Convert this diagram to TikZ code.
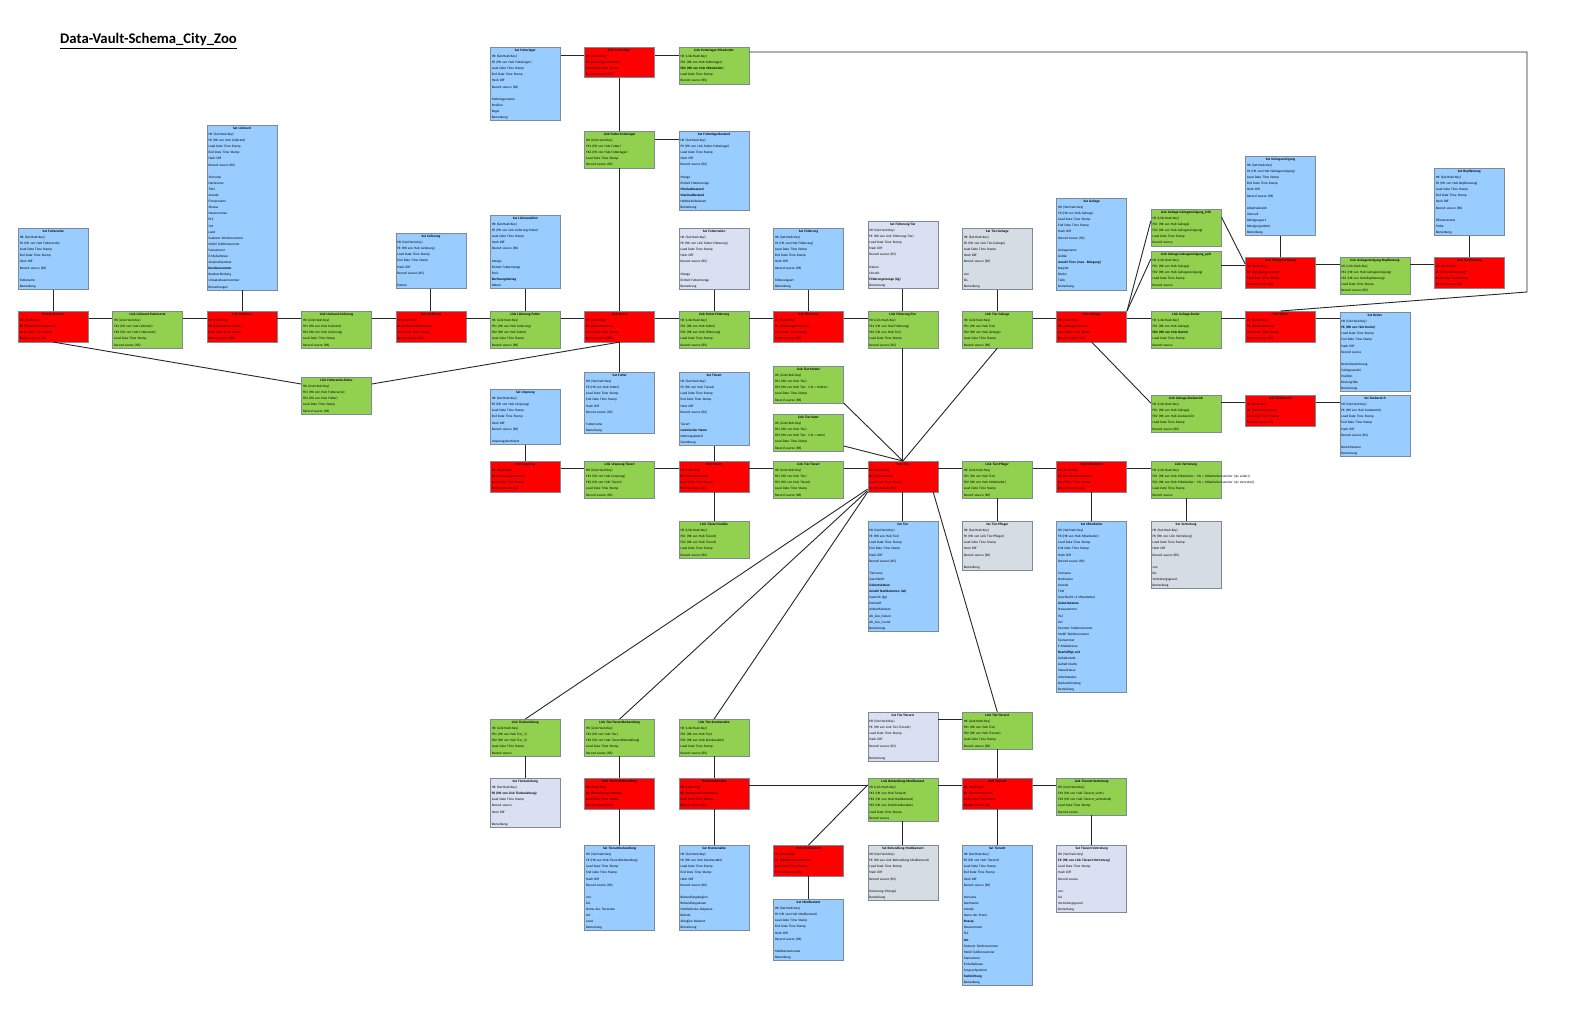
\documentclass[tikz,border=0pt]{standalone}
\usepackage{fontspec}
\setmainfont{Carlito}
\usetikzlibrary{calc}
\definecolor{hubred}{HTML}{FF0000}
\definecolor{lnkgreen}{HTML}{92D050}
\definecolor{satblue}{HTML}{99CCFF}
\definecolor{satlav}{HTML}{DAE0F2}
\definecolor{satgray}{HTML}{D6DCE4}
\definecolor{boxline}{HTML}{7F8A99}
\newcommand\efont{\fontsize{3.4}{6.1}\selectfont}
\newcommand\estrut{\rule[-1.9pt]{0pt}{6.1pt}}
\newcommand\erow[1]{\\\estrut\mbox{#1}}
\newcommand\ent[6]{\node[#2] (#1) at (#3,#4) {\estrut\makebox[67pt][c]{\bfseries #5}#6};}
\newcommand\hubrows[1]{\erow{HK (Hash-Key)}\erow{BK (#1)}\erow{Load Date Time Stamp}\erow{Record source (RS)}}
\newcommand\lnkrows[2]{\erow{HK (Link-Hash-Key)}\erow{FK1 (HK von Hub #1)}\erow{FK2 (HK von Hub #2)}\erow{Load Date Time Stamp}\erow{Record source (RS)}}
\newcommand\satrows[1]{\erow{HK (Sat-Hash-Key)}\erow{FK (HK von Hub #1)}\erow{Load Date Time Stamp}\erow{End Date Time Stamp}\erow{Hash Diff}\erow{Record source (RS)}\erow{}}
\newcommand\lsatrows[1]{\erow{HK (Sat-Hash-Key)}\erow{FK (HK von Link #1)}\erow{Load Date Time Stamp}\erow{Hash Diff}\erow{Record source (RS)}\erow{}}
\newcommand\hcon[3]{\draw[conn] (#1.east |- 0,#3) -- (#2.west |- 0,#3);}
\newcommand\vcon[2]{\draw[conn] (#1.south) -- (#2.north);}
\tikzset{
  ent/.style={draw=boxline, line width=0.6pt, anchor=north west, text width=67pt,
    inner xsep=1.5pt, inner ysep=0pt, align=left, font=\efont},
  hub/.style={ent, fill=hubred},
  lnk/.style={ent, fill=lnkgreen},
  sat/.style={ent, fill=satblue},
  satl/.style={ent, fill=satlav},
  satg/.style={ent, fill=satgray},
  conn/.style={draw=black!85, line width=0.9pt}
}
\begin{document}
\begin{tikzpicture}[x=1pt,y=-1pt]
\useasboundingbox[fill=white] (0,0) rectangle (1582,1011);
\node[anchor=base west, inner sep=0pt, font=\fontsize{14.7}{16}\selectfont\bfseries] (title) at (60,44) {\underline{Data-Vault-Schema\_City\_Zoo}};

% ---------- upper / main row ----------
\ent{sfs}{sat}{18}{228}{Sat Futtersorte}{\satrows{Futtersorte}\erow{Futtersorte}\erow{Bemerkung}}
\ent{hfs}{hub}{18}{311}{Hub Futtersorte}{\hubrows{Futtersortennummer}}
\ent{lfl}{lnk}{112.4}{311}{Link Lieferant-Futtersorte}{\lnkrows{Lieferant}{Futtersorte}}
\ent{sli}{sat}{206.8}{125}{Sat Lieferant}{\satrows{Lieferant}\erow{Vorname}\erow{Nachname}\erow{Titel}\erow{Anrede}\erow{Firmenname}\erow{Strasse}\erow{Hausnummer}\erow{PLZ}\erow{Ort}\erow{Land}\erow{Festnetz Telefonnummer}\erow{Mobil Telefonnummer}\erow{Faxnummer}\erow{E-Mailadresse}\erow{Ansprechpartner}\erow{\bfseries Kundennummer}\erow{Bankverbindung}\erow{Umsatzsteuernummer}\erow{Bemerkungen}}
\ent{hli}{hub}{206.8}{311}{Hub Lieferant}{\hubrows{Lieferantennummer}}
\ent{lll}{lnk}{301.2}{311}{Link Lieferant-Lieferung}{\lnkrows{Lieferant}{Lieferung}}
\ent{slf}{sat}{395.6}{233}{Sat Lieferung}{\satrows{Lieferung}\erow{Datum}}
\ent{hlf}{hub}{395.6}{311}{Hub Lieferung}{\hubrows{Lieferscheinnummer}}
\ent{llp}{lnk}{490}{311}{Link Lieferung-Futter}{\lnkrows{Lieferung}{Futter}}
\ent{slp}{sat}{490}{215}{Sat Lieferposition}{\lsatrows{Lieferung-Futter}\erow{Menge}\erow{Einheit Futtermenge}\erow{Preis}\erow{\bfseries Rechnungsbetrag}\erow{Datum}}
\ent{hfu}{hub}{584.4}{311}{Hub Futter}{\hubrows{Futternummer}}
\ent{lfsf}{lnk}{301.2}{377}{Link Futtersorte-Futter}{\lnkrows{Futtersorte}{Futter}}
\ent{sfl}{sat}{490}{47}{Sat Futterlager}{\satrows{Futterlager}\erow{Futterlagername}\erow{Position}\erow{Regal}\erow{Bemerkung}}
\ent{hfl}{hub}{584.4}{47}{Hub Futterlager}{\hubrows{Futterlagernummer}}
\ent{lflm}{lnk}{678.8}{47}{Link Futterlager-Mitarbeiter}{\erow{HK (Link-Hash-Key)}\erow{FK1 (HK von Hub Futterlager)}\erow{\bfseries FK2 (HK von Hub Mitarbeiter)}\erow{Load Date Time Stamp}\erow{Record source (RS)}}
\ent{lffl}{lnk}{584.4}{131}{Link Futter-Futterlager}{\lnkrows{Futter}{Futterlager}}
\ent{sflb}{sat}{678.8}{131}{Sat Futterlagerbestand}{\lsatrows{Futter-Futterlager}\erow{Menge}\erow{Einheit Futtermenge}\erow{\bfseries Mindestbestand}\erow{\bfseries Maximalbestand}\erow{Haltbarkeitsdatum}\erow{Bemerkung}}
\ent{sfu}{sat}{584.4}{372}{Sat Futter}{\satrows{Futter}\erow{Futtername}\erow{Bemerkung}}
\ent{lfr}{lnk}{678.8}{311}{Link Futter-Fütterung}{\lnkrows{Futter}{Fütterung}}
\ent{sfr}{satl}{678.8}{228}{Sat Futterration}{\lsatrows{Futter-Fütterung}\erow{Menge}\erow{Einheit Futtermenge}\erow{Bemerkung}}
\ent{hfg}{hub}{773.2}{311}{Hub Fütterung}{\hubrows{Fütterungsnummer}}
\ent{sfg}{sat}{773.2}{228}{Sat Fütterung}{\satrows{Fütterung}\erow{Fütterungsart}\erow{Bemerkung}}
\ent{lft}{lnk}{867.6}{311}{Link Fütterung-Tier}{\lnkrows{Fütterung}{Tier}}
\ent{sft}{satl}{867.6}{221}{Sat Fütterung-Tier}{\lsatrows{Fütterung-Tier}\erow{Datum}\erow{Uhrzeit}\erow{\bfseries Fütterungsmenge (kg)}\erow{Bemerkung}}
\ent{ltg}{lnk}{962}{311}{Link Tier-Gehege}{\lnkrows{Tier}{Gehege}}
\ent{stg}{satg}{962}{228}{Sat Tier-Gehege}{\lsatrows{Tier-Gehege}\erow{von}\erow{bis}\erow{Bemerkung}}
\ent{hge}{hub}{1056.4}{311}{Hub Gehege}{\hubrows{Gehegenummer}}
\ent{sge}{sat}{1056.4}{198}{Sat Gehege}{\satrows{Gehege}\erow{Gehegename}\erow{Größe}\erow{\bfseries Anzahl Tiere (max. Belegung)}\erow{Baujahr}\erow{Breite}\erow{Tiefe}\erow{Bemerkung}}
\ent{lgr1}{lnk}{1150.8}{209}{Link Gehege-Gehegereinigung\_früh}{\erow{HK (Link-Hash-Key)}\erow{FK1 (HK von Hub Gehege)}\erow{FK2 (HK von Hub Gehegereinigung)}\erow{Load Date Time Stamp}\erow{Record source}}
\ent{lgr2}{lnk}{1150.8}{251}{Link Gehege-Gehegereinigung\_spät}{\erow{HK (Link-Hash-Key)}\erow{FK1 (HK von Hub Gehege)}\erow{FK2 (HK von Hub Gehegereinigung)}\erow{Load Date Time Stamp}\erow{Record source}}
\ent{hgr}{hub}{1245.2}{257}{Hub Gehegereinigung}{\hubrows{Reinigungsnummer}}
\ent{sgr}{sat}{1245.2}{156}{Sat Gehegereinigung}{\satrows{Gehegereinigung}\erow{Arbeitsbereich}\erow{Intervall}\erow{Reinigungsart}\erow{Reinigungsmittel}\erow{Bemerkung}}
\ent{lgb}{lnk}{1339.6}{257}{Link Gehegereinigung-Bepflanzung}{\lnkrows{Gehegereinigung}{Bepflanzung}}
\ent{hbp}{hub}{1434}{257}{Hub Bepflanzung}{\hubrows{Pflanzennummer}}
\ent{sbp}{sat}{1434}{168}{Sat Bepflanzung}{\satrows{Bepflanzung}\erow{Pflanzenname}\erow{Farbe}\erow{Bemerkung}}
\ent{lgrv}{lnk}{1150.8}{311}{Link Gehege-Revier}{\erow{HK (Link-Hash-Key)}\erow{FK1 (HK von Hub Gehege)}\erow{\bfseries FK2 (HK von Hub Revier)}\erow{Load Date Time Stamp}\erow{Record source}}
\ent{hrv}{hub}{1245.2}{311}{Hub Revier}{\hubrows{Reviernummer}}
\ent{srv}{sat}{1339.6}{312}{Sat Revier}{\erow{HK (Sat-Hash-Key)}\erow{\bfseries FK (HK von Hub Revier)}\erow{Load Date Time Stamp}\erow{End Date Time Stamp}\erow{Hash Diff}\erow{Record source}\erow{}\erow{Revierbezeichnung}\erow{Gehegeanzahl}\erow{Position}\erow{Reviergröße}\erow{Bemerkung}}
\ent{lgz}{lnk}{1150.8}{395}{Link Gehege-Zoobereich}{\lnkrows{Gehege}{Zoobereich}}
\ent{hzb}{hub}{1245.2}{395}{Hub Zoobereich}{\hubrows{Bereichsnummer}}
\ent{szb}{sat}{1339.6}{395}{Sat Zoobereich}{\satrows{Zoobereich}\erow{Bereichsname}\erow{Bemerkung}}

% ---------- middle row ----------
\ent{sur}{sat}{490}{389}{Sat Ursprung}{\satrows{Ursprung}\erow{Ursprungskontinent}}
\ent{hur}{hub}{490}{461}{Hub Ursprung}{\hubrows{Ursprungsnummer}}
\ent{lut}{lnk}{584.4}{461}{Link Ursprung-Tierart}{\lnkrows{Ursprung}{Tierart}}
\ent{sta}{sat}{678.8}{372}{Sat Tierart}{\satrows{Tierart}\erow{Tierart}\erow{\bfseries Lateinischer Name}\erow{Nahrungsbedarf}\erow{Zuordnung}}
\ent{hta}{hub}{678.8}{461}{Hub Tierart}{\hubrows{Tierartnummer}}
\ent{ltaf}{lnk}{678.8}{521}{Link Tierart-Familie}{\lnkrows{Tierart}{Tierart}}
\ent{ltt1}{lnk}{773.2}{366}{Link Tier-Mutter}{\erow{HK (Link-Hash-Key)}\erow{FK1 (HK von Hub Tier)}\erow{FK2 (HK von Hub Tier: 1:N = Mutter)}\erow{Load Date Time Stamp}\erow{Record source (RS)}}
\ent{ltt2}{lnk}{773.2}{414}{Link Tier-Vater}{\erow{HK (Link-Hash-Key)}\erow{FK1 (HK von Hub Tier)}\erow{FK2 (HK von Hub Tier: 1:N = Vater)}\erow{Load Date Time Stamp}\erow{Record source (RS)}}
\ent{ltta}{lnk}{773.2}{461}{Link Tier-Tierart}{\lnkrows{Tier}{Tierart}}
\ent{ht}{hub}{867.6}{461}{Hub Tier}{\hubrows{Tiernummer}}
\ent{st}{sat}{867.6}{521}{Sat Tier}{\satrows{Tier}\erow{Tiername}\erow{Geschlecht}\erow{\bfseries Geburtsdatum}\erow{\bfseries Anzahl Nachkommen (Ist)}\erow{Gewicht (kg)}\erow{Herkunft}\erow{Ankunftsdatum}\erow{Ab\_Zoo\_Datum}\erow{Ab\_Zoo\_Grund}\erow{Bemerkung}}
\ent{ltp}{lnk}{962}{461}{Link Tier-Pfleger}{\lnkrows{Tier}{Mitarbeiter}}
\ent{stp}{satg}{962}{521}{Sat Tier-Pfleger}{\lsatrows{Tier-Pfleger}\erow{Bemerkung}}
\ent{hma}{hub}{1056.4}{461}{Hub Mitarbeiter}{\hubrows{Mitarbeiternummer}}
\ent{sma}{sat}{1056.4}{521}{Sat Mitarbeiter}{\satrows{Mitarbeiter}\erow{Vorname}\erow{Nachname}\erow{Anrede}\erow{Titel}\erow{Geschlecht (1 Mitarbeiter)}\erow{\bfseries Geburtsdatum}\erow{Hausnummer}\erow{PLZ}\erow{Ort}\erow{Festnetz Telefonnummer}\erow{Mobil Telefonnummer}\erow{Faxnummer}\erow{E-Mailadresse}\erow{\bfseries Beschäftigt seit}\erow{Gehaltsstufe}\erow{Gehalt brutto}\erow{Steuerklasse}\erow{Arbeitsstatus}\erow{Bankverbindung}\erow{Bemerkung}}
\ent{lvt}{lnk}{1150.8}{461}{Link Vertretung}{\erow{HK (Link-Hash-Key)}\erow{\rlap{FK1 (HK von Hub Mitarbeiter: 1:N = Mitarbeiternummer (als Leiter))}}\erow{\rlap{FK2 (HK von Hub Mitarbeiter: 1:N = Mitarbeiternummer (als Vertreter))}}\erow{Load Date Time Stamp}\erow{Record source}}
\ent{svt}{satg}{1150.8}{521}{Sat Vertretung}{\lsatrows{Vertretung}\erow{von}\erow{bis}\erow{Vertretungsgrund}\erow{Bemerkung}}

% ---------- bottom ----------
\ent{ltb}{lnk}{490}{719}{Link Tierbeziehung}{\erow{HK (Link-Hash-Key)}\erow{FK1 (HK von Hub Tier\_1)}\erow{FK2 (HK von Hub Tier\_2)}\erow{Load Date Time Stamp}\erow{Record source}}
\ent{stb}{satl}{490}{778}{Sat Tierbeziehung}{\erow{HK (Sat-Hash-Key)}\erow{\bfseries FK (HK von Link Tierbeziehung)}\erow{Load Date Time Stamp}\erow{Record source}\erow{Hash Diff}\erow{}\erow{Bemerkung}}
\ent{ltab}{lnk}{584.4}{719}{Link Tier-Tierarztbehandlung}{\lnkrows{Tier}{Tierarztbehandlung}}
\ent{htab}{hub}{584.4}{778}{Hub Tierarztbehandlung}{\hubrows{Behandlungsnummer}}
\ent{stab}{sat}{584.4}{845}{Sat Tierarztbehandlung}{\satrows{Tierarztbehandlung}\erow{von}\erow{bis}\erow{Name des Tierarztes}\erow{Art}\erow{Land}\erow{Bemerkung}}
\ent{ltka}{lnk}{678.8}{719}{Link Tier-Krankenakte}{\lnkrows{Tier}{Krankenakte}}
\ent{hka}{hub}{678.8}{778}{Hub Krankenakte}{\hubrows{Krankenaktennummer}}
\ent{ska}{sat}{678.8}{845}{Sat Krankenakte}{\satrows{Krankenakte}\erow{Behandlungsbeginn}\erow{Behandlungsdauer}\erow{Medizinische Diagnose}\erow{Befund}\erow{Allergien bekannt}\erow{Bemerkung}}
\ent{hme}{hub}{773.2}{845}{Hub Medikament}{\hubrows{Medikamentnummer}}
\ent{sme}{sat}{773.2}{899}{Sat Medikament}{\satrows{Medikament}\erow{Medikamentname}\erow{Bemerkung}}
\ent{stta}{satl}{867.6}{712}{Sat Tier-Tierarzt}{\lsatrows{Tier-Tierarzt}\erow{Bemerkung}}
\ent{lbm}{lnk}{867.6}{778}{Link Behandlung-Medikament}{\erow{HK (Link-Hash-Key)}\erow{FK1 (HK von Hub Tierarzt)}\erow{FK2 (HK von Hub Medikament)}\erow{FK3 (HK von Hub Krankenakte)}\erow{Load Date Time Stamp}\erow{Record source}}
\ent{sbm}{satg}{867.6}{845}{Sat Behandlung-Medikament}{\lsatrows{Behandlung-Medikament}\erow{Dosierung (Menge)}\erow{Bemerkung}}
\ent{lttz}{lnk}{962}{712}{Link Tier-Tierarzt}{\lnkrows{Tier}{Tierarzt}}
\ent{htz}{hub}{962}{778}{Hub Tierarzt}{\hubrows{Tierarztnummer}}
\ent{stz}{sat}{962}{845}{Sat Tierarzt}{\satrows{Tierarzt}\erow{Vorname}\erow{Nachname}\erow{Anrede}\erow{Name der Praxis}\erow{\bfseries Strasse}\erow{Hausnummer}\erow{PLZ}\erow{\bfseries Ort}\erow{Festnetz Telefonnummer}\erow{Mobil Telefonnummer}\erow{Faxnummer}\erow{E-Mailadresse}\erow{Ansprechpartner}\erow{\bfseries Fachrichtung}\erow{Bemerkung}}
\ent{ltzv}{lnk}{1056.4}{778}{Link Tierarzt-Vertretung}{\erow{HK (Link-Hash-Key)}\erow{FK1 (HK von Hub Tierarzt\_vertr.)}\erow{FK2 (HK von Hub Tierarzt\_vertretend)}\erow{Load Date Time Stamp}\erow{Record source}}
\ent{stzv}{satl}{1056.4}{845}{Sat Tierarzt-Vertretung}{\erow{HK (Sat-Hash-Key)}\erow{\bfseries FK (HK von Link Tierarzt-Vertretung)}\erow{Load Date Time Stamp}\erow{Hash Diff}\erow{Record source}\erow{}\erow{von}\erow{bis}\erow{Vertretungsgrund}\erow{Bemerkung}}

% ---------- connectors ----------
\hcon{hfs}{lfl}{318}
\hcon{lfl}{hli}{318}
\hcon{hli}{lll}{318}
\hcon{lll}{hlf}{318}
\hcon{hlf}{llp}{318}
\hcon{llp}{hfu}{318}
\hcon{hfu}{lfr}{318}
\hcon{lfr}{hfg}{318}
\hcon{hfg}{lft}{318}
\hcon{ltg}{hge}{318}
\hcon{hge}{lgrv}{318}
\hcon{lgrv}{hrv}{318}
\hcon{hrv}{srv}{318}
\vcon{sfs}{hfs}
\vcon{sli}{hli}
\vcon{slf}{hlf}
\vcon{slp}{llp}
\vcon{sfr}{lfr}
\vcon{sfg}{hfg}
\vcon{sft}{lft}
\vcon{stg}{ltg}
\vcon{sgr}{hgr}
\vcon{sbp}{hbp}
\hcon{sfl}{hfl}{55}
\hcon{hfl}{lflm}{55}
\vcon{hfl}{lffl}
\vcon{lffl}{hfu}
\hcon{lffl}{sflb}{139}
\coordinate (bendA) at (1527,52);
\coordinate (bendB) at (1527,292);
\draw[conn] (lflm.east |- bendA) -- (bendA) -- (bendB) -- (hrv.north);
\draw[conn] (hge.north east) -- (lgr1.west |- 0,221);
\draw[conn] (hge.north east) -- (lgr2.west |- 0,259);
\draw[conn] (lgr1.east |- 0,217) -- (hgr.west |- 0,264);
\hcon{lgr2}{hgr}{265}
\hcon{hgr}{lgb}{264}
\hcon{lgb}{hbp}{264}
\draw[conn] (hge.south) -- (lgz.west |- 0,403);
\hcon{lgz}{hzb}{402}
\hcon{hzb}{szb}{402}
\vcon{lft}{ht}
\draw[conn] (ltg.south) -- (ht.north);
\draw[conn] (ltt1.south east) -- (ht.north);
\draw[conn] (ltt2.east |- 0,446) -- (ht.north);
\draw[conn] (hfs.south) -- (lfsf.west |- 0,384);
\draw[conn] (lfsf.east |- 0,384) -- (hfu.south);
\vcon{hfu}{sfu}
\hcon{hur}{lut}{468}
\hcon{lut}{hta}{468}
\hcon{hta}{ltta}{468}
\hcon{ltta}{ht}{468}
\hcon{ht}{ltp}{468}
\hcon{ltp}{hma}{468}
\hcon{hma}{lvt}{468}
\vcon{sur}{hur}
\vcon{sta}{hta}
\vcon{hta}{ltaf}
\vcon{ht}{st}
\vcon{ltp}{stp}
\vcon{hma}{sma}
\vcon{lvt}{svt}
\draw[conn] ([yshift=3pt]ht.south west) -- (ltb.north);
\draw[conn] ([yshift=1.5pt]ht.south west) -- (ltab.north);
\draw[conn] (ht.south west) -- (ltka.north);
\draw[conn] ([xshift=-5pt]ht.south east) -- (lttz.north);
\vcon{ltb}{stb}
\vcon{ltab}{htab}
\vcon{htab}{stab}
\vcon{ltka}{hka}
\vcon{hka}{ska}
\vcon{hme}{sme}
\vcon{lttz}{htz}
\vcon{lbm}{sbm}
\vcon{htz}{stz}
\vcon{ltzv}{stzv}
\hcon{hka}{lbm}{785}
\draw[conn] (lbm.west |- 0,785) -- (hme.north);
\hcon{lbm}{htz}{785}
\hcon{htz}{ltzv}{785}
\hcon{stta}{lttz}{719}
\end{tikzpicture}
\end{document}
